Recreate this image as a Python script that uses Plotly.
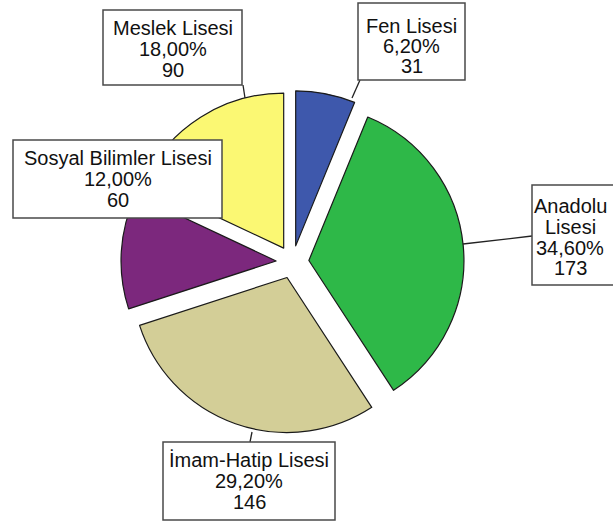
import plotly.graph_objects as go

# ---- data ----
labels = ["Fen Lisesi", "Anadolu Lisesi", "İmam-Hatip Lisesi", "Sosyal Bilimler Lisesi", "Meslek Lisesi"]
percents = [6.20, 34.60, 29.20, 12.00, 18.00]
counts = [31, 173, 146, 60, 90]

# ---- style / layout ----
colors = ["#3E58AC", "#2EB848", "#D3CE97", "#7C287D", "#FBF873"]
W, H = 613, 521
FONT = "Liberation Sans, Arial, sans-serif"
FS = 20

def px(x):
    return x / W

def py(y):
    return 1 - y / H

# label line wrapping for the callout boxes
wrap = {"Anadolu Lisesi": ["Anadolu", "Lisesi"]}

# callout boxes (pixel rects) and baselines, and leader lines
boxes = {
    "Fen Lisesi": dict(rect=(358, 3, 465, 80), cx=411.5, base=[33, 53, 73], lead=(360, 80, 352, 98)),
    "Anadolu Lisesi": dict(rect=(532, 185, 640, 285), cx=570, base=[213, 234, 255, 275], lead=(463, 244, 532, 236)),
    "İmam-Hatip Lisesi": dict(rect=(163, 442, 335, 520), cx=249, base=[467, 488, 509], lead=(252, 432, 250, 442)),
    "Sosyal Bilimler Lisesi": dict(rect=(13, 140, 222, 218), cx=117.5, base=[165, 186, 207], lead=None),
    "Meslek Lisesi": dict(rect=(103, 10, 242, 85), cx=172.5, base=[35, 56, 77], lead=(243, 85, 245, 98)),
}

cx_pie, cy_pie, half = 292.5, 262, 171.5
pull = 0.106

fig = go.Figure(go.Pie(
    labels=labels,
    values=counts,
    sort=False,
    direction="clockwise",
    rotation=0,
    pull=[pull] * len(labels),
    marker=dict(colors=colors, line=dict(color="#1a1a1a", width=1.2)),
    textinfo="none",
    hoverinfo="label+value+percent",
    showlegend=False,
    domain=dict(x=[px(cx_pie - half), px(cx_pie + half)],
                y=[py(cy_pie + half), py(cy_pie - half)]),
))

shapes = []
annotations = []
for lab, pct, cnt in zip(labels, percents, counts):
    b = boxes[lab]
    if b["lead"]:
        x0, y0, x1, y1 = b["lead"]
        shapes.append(dict(type="line", xref="paper", yref="paper",
                           x0=px(x0), y0=py(y0), x1=px(x1), y1=py(y1),
                           line=dict(color="#222222", width=1.3)))
    x0, y0, x1, y1 = b["rect"]
    shapes.append(dict(type="rect", xref="paper", yref="paper",
                       x0=px(x0), y0=py(y0), x1=px(x1), y1=py(y1),
                       fillcolor="white", line=dict(color="#4a4a4a", width=1.5)))
    lines = wrap.get(lab, [lab]) + [f"{pct:.2f}".replace(".", ",") + "%", str(cnt)]
    for t, base in zip(lines, b["base"]):
        annotations.append(dict(xref="paper", yref="paper", x=px(b["cx"]), y=py(base - 7),
                                text=t, showarrow=False, xanchor="center", yanchor="middle",
                                font=dict(family=FONT, size=FS, color="#111111")))

fig.update_layout(
    width=W, height=H,
    margin=dict(l=0, r=0, t=0, b=0),
    paper_bgcolor="white",
    plot_bgcolor="white",
    shapes=shapes,
    annotations=annotations,
)

fig.write_html("out.html")
